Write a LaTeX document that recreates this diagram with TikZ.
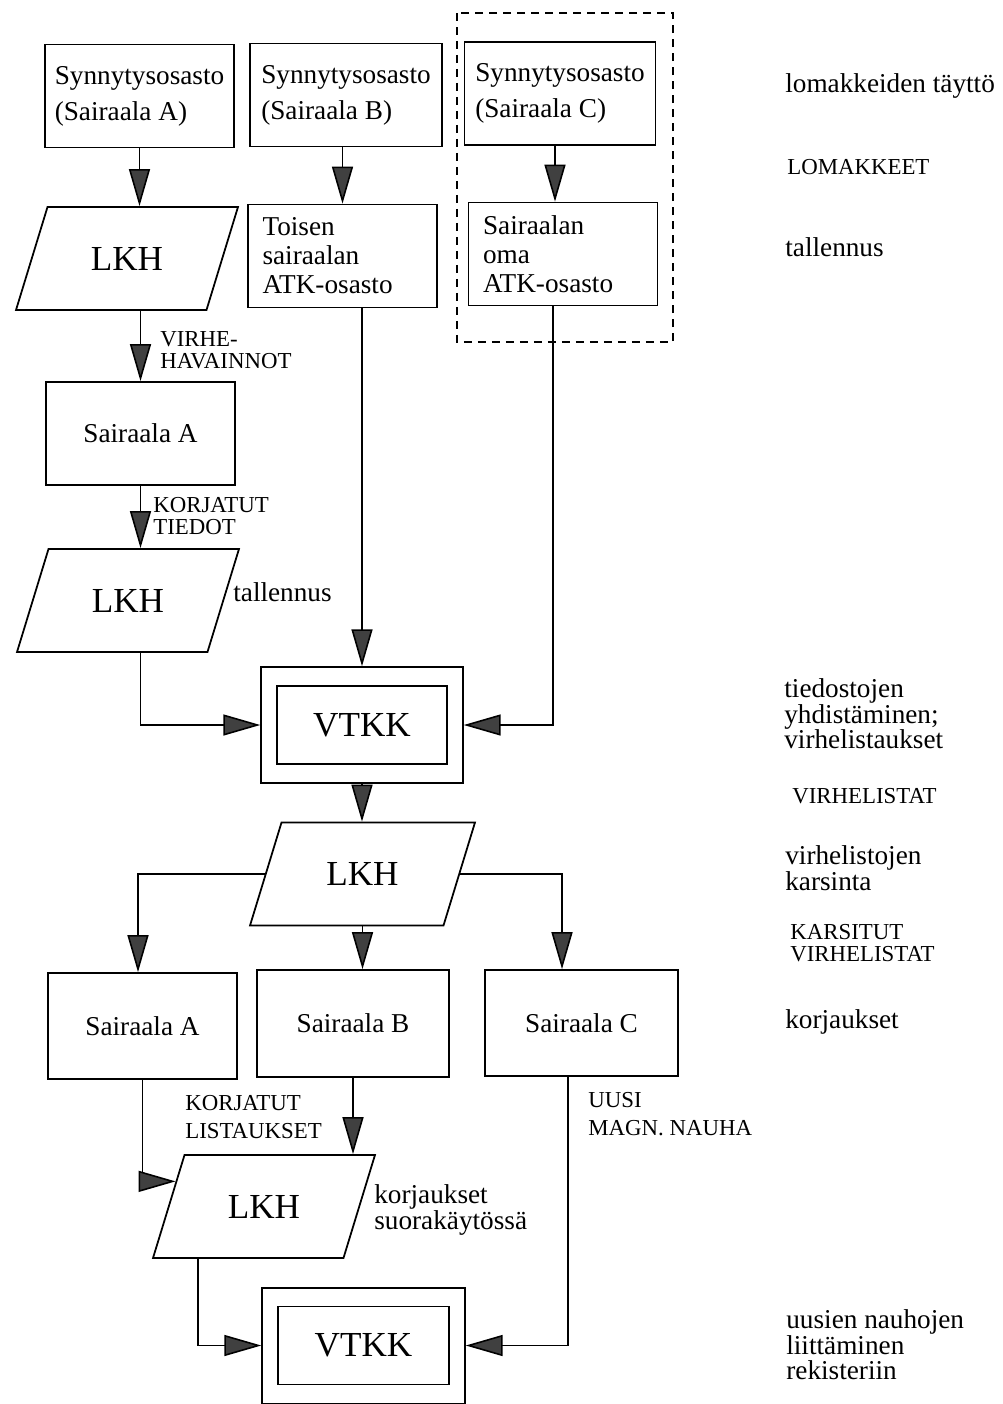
\documentclass[tikz,border=0pt]{standalone}
\usepackage{fontspec}
\setmainfont{Liberation Serif}
\usepackage{tikz}
\usetikzlibrary{
    arrows.meta,
    shapes.geometric,
    calc,
    fit
}
\newcommand{\boxfont}{\fontsize{15.5}{20.5}\selectfont}
\newcommand{\tightfont}{\fontsize{15.5}{16.5}\selectfont}
\newcommand{\notefont}{\fontsize{15.5}{14.5}\selectfont}
\newcommand{\capsfont}{\fontsize{13}{12.5}\selectfont}
\newcommand{\bigfont}{\fontsize{20}{24}\selectfont}

\begin{document}
\begin{tikzpicture}[
    x=0.02cm, y=-0.02cm,
    proc/.style={
        rectangle, draw, line width=1pt,
        minimum width=3.78cm, minimum height=2.06cm,
        align=left, font=\boxfont
    },
    store/.style={
        trapezium, trapezium left angle=73, trapezium right angle=107,
        trapezium stretches body=true, draw, line width=1pt,
        inner ysep=0pt, text height=1.26cm, text depth=0.8cm,
        minimum width=4.44cm, font=\bigfont
    },
    vtkk/.style={
        rectangle, draw, line width=1pt,
        minimum width=3.4cm, minimum height=1.56cm, font=\bigfont
    },
    outerbox/.style={draw, line width=1pt, inner xsep=0.3cm, inner ysep=0.36cm},
    arr/.style={line width=0.9pt, -{Triangle[length=0.74cm, width=0.42cm, fill=black!75]}},
    lbl/.style={anchor=west, align=left, inner sep=0pt, font=\notefont},
    capslbl/.style={anchor=west, align=left, inner sep=0pt, font=\capsfont}
]
\useasboundingbox (0,0) rectangle (1003,1404);

% Maternity wards
\node[proc] (synA) at (139.5, 96) {Synnytysosasto\\(Sairaala A)};
\node[proc, minimum width=3.84cm] (synB) at (346, 95) {Synnytysosasto\\(Sairaala B)};
\node[proc, minimum width=3.82cm] (synC) at (560, 93.5) {Synnytysosasto\\(Sairaala C)};

% Saving
\node[store] (lkhA) at (127, 258.5) {LKH};
\node[proc, text width=3.2cm, font=\tightfont] (atkB) at (342.5, 256) {Toisen\\sairaalan\\ATK-osasto};
\node[proc, text width=3.2cm, font=\tightfont] (atkC) at (563, 254) {Sairaalan\\oma\\ATK-osasto};
\draw[line width=1pt, dash pattern=on 0.16cm off 0.12cm] (457,13) rectangle (673,342);

% Corrections, hospital A
\node[proc] (hospA1) at (140.5, 433.5) {Sairaala A};
\node[store] (lkhA2) at (128, 600.5) {LKH};

% Merging
\node[vtkk] (vtkk1) at (362, 725) {VTKK};
\node[outerbox, fit=(vtkk1)] (vtkk1o) {};
\node[store, minimum width=4.5cm] (lkhC) at (362.5, 874) {LKH};

% Corrections
\node[proc, minimum height=2.12cm] (hospA2) at (142.5, 1026) {Sairaala A};
\node[proc, minimum width=3.84cm, minimum height=2.14cm] (hospB2) at (353, 1023.5) {Sairaala B};
\node[proc, minimum width=3.86cm, minimum height=2.12cm] (hospC2) at (581.5, 1023) {Sairaala C};
\node[store] (lkhD) at (264, 1206.5) {LKH};
\node[vtkk, minimum width=3.42cm] (vtkk2) at (363.5, 1345.5) {VTKK};
\node[outerbox, fit=(vtkk2)] (vtkk2o) {};
\coordinate (lkhDin) at ($(lkhD.top left corner)!0.26!(lkhD.bottom left corner)$);

% Arrows
\draw[arr] (synA.south) -- (synA.south |- lkhA.north);
\draw[arr] (atkB.north |- synB.south) -- (atkB.north);
\draw[arr] ([xshift=-0.1cm]synC.south) -- ([xshift=-0.1cm]synC.south |- atkC.north);
\draw[arr] (hospA1.north |- lkhA.south) -- (hospA1.north);
\draw[arr] (hospA1.south) -- (hospA1.south |- lkhA2.north);
\draw[arr] (hospA1.south |- lkhA2.south) |- (vtkk1o.west);
\draw[arr] (atkB.south -| vtkk1o.north) -- (vtkk1o.north);
\draw[arr] ([xshift=-0.2cm]atkC.south) |- (vtkk1o.east);
\draw[arr] (vtkk1o.south) -- (vtkk1o.south |- lkhC.north);
\draw[arr] (lkhC.west) -| ([xshift=-0.09cm]hospA2.north);
\draw[arr] (lkhC.south) -- (lkhC.south |- hospB2.north);
\draw[arr] (lkhC.east) -| ([xshift=-0.39cm]hospC2.north);
\draw[arr] (hospA2.south) |- (lkhDin);
\draw[arr] (hospB2.south) -- (hospB2.south |- lkhD.north);
\draw[arr] ([xshift=-1.32cm]lkhD.south) |- (vtkk2o.west);
\draw[arr] ([xshift=-0.27cm]hospC2.south) |- (vtkk2o.east);

% Flow labels
\node[capslbl] (virhe) at (160, 350) {VIRHE-\\HAVAINNOT};
\node[capslbl] (korjT) at (153, 516) {KORJATUT\\TIEDOT};
\node[lbl] (tallA) at (233, 592) {tallennus};
\node[capslbl] (korjL) at (185, 1117) {KORJATUT\\[3pt]LISTAUKSET};
\node[capslbl] (uusi) at (588, 1114) {UUSI\\[3.5pt]MAGN. NAUHA};
\node[lbl] (suora) at (374, 1210) {korjaukset\\suorakäytössä};

% Steps
\node[lbl] (step1) at (785, 86) {lomakkeiden täyttö};
\node[capslbl] (step2) at (787, 167) {LOMAKKEET};
\node[lbl] (step3) at (785, 247) {tallennus};
\node[lbl] (step4) at (784, 714) {tiedostojen\\yhdistäminen;\\virhelistaukset};
\node[capslbl] (step5) at (792, 796) {VIRHELISTAT};
\node[lbl] (step6) at (785, 868) {virhelistojen\\karsinta};
\node[capslbl] (step7) at (790, 943) {KARSITUT\\VIRHELISTAT};
\node[lbl] (step8) at (785, 1022) {korjaukset};
\node[lbl] (step9) at (786, 1345) {uusien nauhojen\\liittäminen\\rekisteriin};

\end{tikzpicture}
\end{document}
